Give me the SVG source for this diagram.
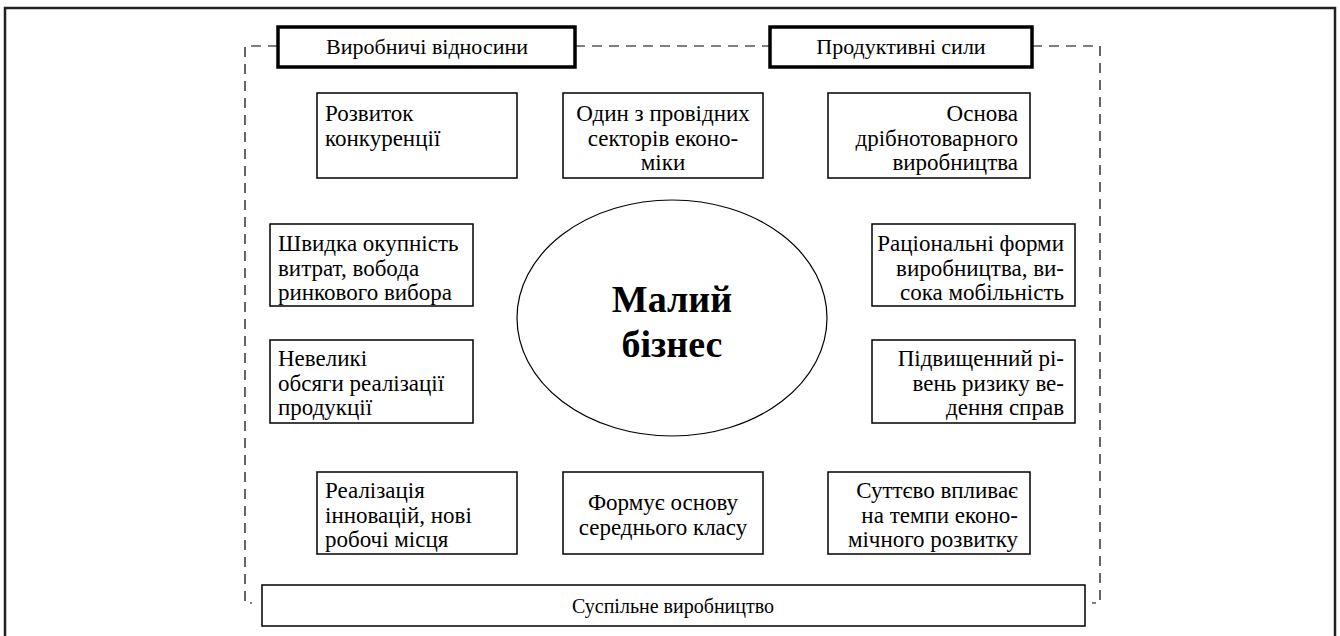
<svg xmlns="http://www.w3.org/2000/svg" width="1340" height="636" viewBox="0 0 1340 636">
<style>
.box{fill:#fff;stroke:#000;stroke-width:1.5}
.thick{fill:#fff;stroke:#000;stroke-width:3.5}
.t{font-family:"Liberation Serif","Times New Roman",serif;font-size:23px;fill:#000}
.l{text-anchor:start}.c{text-anchor:middle}.r{text-anchor:end}
.dash{fill:none;stroke:#000;stroke-width:1.2;stroke-dasharray:10,7}
.big{font-family:"Liberation Serif","Times New Roman",serif;font-size:38px;font-weight:bold;text-anchor:middle;fill:#000}
</style>
<rect x="0" y="0" width="1340" height="636" fill="#fff"/>
<rect x="5" y="8" width="1330" height="640" fill="none" stroke="#222" stroke-width="2.5"/>
<g id="connectors">
<path class="dash" d="M278,46 H245 V603 H252"/>
<path class="dash" d="M575,46 H770"/>
<path class="dash" d="M1032,46 H1100 V603 H1092"/>
</g>
<g id="n-vyrobnychi"><rect class="thick" x="278" y="27" width="297" height="40"/><text class="t c" x="427" y="54" style="font-size:22px">Виробничі відносини</text></g>
<g id="n-produktyvni"><rect class="thick" x="770" y="27" width="262" height="40"/><text class="t c" x="901" y="54" style="font-size:22px">Продуктивні сили</text></g>
<g id="n-rozvytok"><rect class="box" x="317" y="93" width="200" height="85"/><text class="t l" x="325" y="121">Розвиток</text><text class="t l" x="325" y="146">конкуренції</text></g>
<g id="n-odyn"><rect class="box" x="563" y="93" width="200" height="85"/><text class="t c" x="663" y="121">Один з провідних</text><text class="t c" x="663" y="146">секторів еконо-</text><text class="t c" x="663" y="170">міки</text></g>
<g id="n-osnova"><rect class="box" x="828" y="93" width="202" height="85"/><text class="t r" x="1018" y="121">Основа</text><text class="t r" x="1018" y="146">дрібнотоварного</text><text class="t r" x="1018" y="170">виробництва</text></g>
<g id="n-shvydka"><rect class="box" x="270" y="224" width="203" height="82"/><text class="t l" x="278" y="251">Швидка окупність</text><text class="t l" x="278" y="276">витрат, вобода</text><text class="t l" x="278" y="300">ринкового вибора</text></g>
<g id="n-nevelyki"><rect class="box" x="270" y="340" width="203" height="83"/><text class="t l" x="278" y="366">Невеликі</text><text class="t l" x="278" y="391">обсяги реалізації</text><text class="t l" x="278" y="415">продукції</text></g>
<g id="n-malyi"><ellipse cx="672" cy="318" rx="155" ry="118" fill="#fff" stroke="#000" stroke-width="1.2"/><text class="big" x="672" y="312">Малий</text><text class="big" x="672" y="357">бізнес</text></g>
<g id="n-ratsionalni"><rect class="box" x="872" y="224" width="203" height="82"/><text class="t r" x="1064" y="251">Раціональні форми</text><text class="t r" x="1064" y="276">виробництва, ви-</text><text class="t r" x="1064" y="300">сока мобільність</text></g>
<g id="n-pidvyshchennyi"><rect class="box" x="872" y="340" width="203" height="83"/><text class="t r" x="1064" y="366">Підвищенний рі-</text><text class="t r" x="1064" y="391">вень ризику ве-</text><text class="t r" x="1064" y="415">дення справ</text></g>
<g id="n-realizatsiia"><rect class="box" x="317" y="472" width="200" height="82"/><text class="t l" x="325" y="498">Реалізація</text><text class="t l" x="325" y="523">інновацій, нові</text><text class="t l" x="325" y="547">робочі місця</text></g>
<g id="n-formuie"><rect class="box" x="563" y="472" width="200" height="82"/><text class="t c" x="663" y="510">Формує основу</text><text class="t c" x="663" y="535">середнього класу</text></g>
<g id="n-suttievo"><rect class="box" x="828" y="472" width="202" height="82"/><text class="t r" x="1018" y="498">Суттєво впливає</text><text class="t r" x="1018" y="523">на темпи еконо-</text><text class="t r" x="1018" y="547">мічного розвитку</text></g>
<g id="n-suspilne"><rect class="box" x="262" y="585" width="823" height="41"/><text class="t c" x="673" y="613" style="font-size:20px">Суспільне виробництво</text></g>
</svg>
